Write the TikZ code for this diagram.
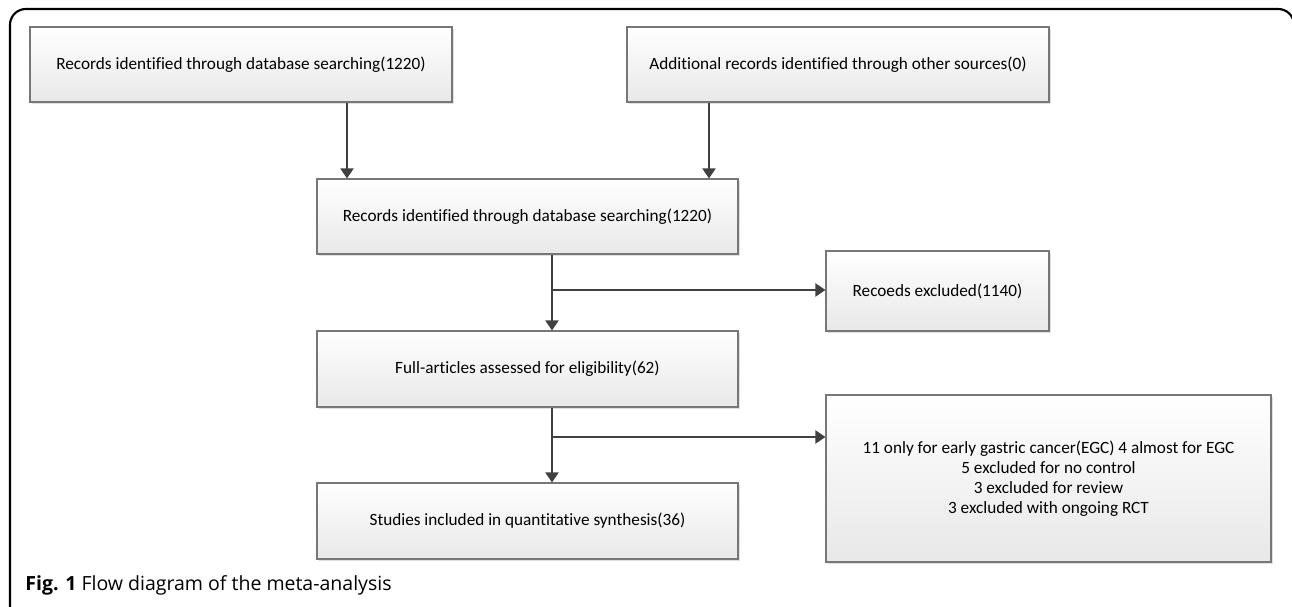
\documentclass[tikz,border=0pt]{standalone}
\usepackage{fontspec}
\setmainfont{Carlito}[Ligatures=NoCommon]
\newfontfamily\capfont{Open Sans}
\usepackage{tikz}
\usetikzlibrary{arrows.meta, shadows, positioning}

\definecolor{linegray}{HTML}{404040}
\definecolor{boxline}{HTML}{777777}

\begin{document}
\begin{tikzpicture}[
    x=0.02cm, y=-0.02cm,
    box/.style={rectangle, draw=boxline, line width=0.6pt, top color=white, bottom color=black!9,
        drop shadow={shadow xshift=1.3pt, shadow yshift=-1.3pt, fill=black!12, opacity=1},
        align=center, font=\fontsize{9.8}{11.4}\selectfont, inner sep=0pt},
    arrow/.style={-{Triangle[length=0.2cm, width=0.26cm]}, line width=1.1pt, draw=linegray}
]
\useasboundingbox (0,0) rectangle (1292,607);

% outer frame
\draw[line width=1.2pt, rounded corners=9] (10,640) -- (10,9) -- (1294,9) -- (1294,640);

\node[box, minimum width=422*0.02cm, minimum height=75*0.02cm] (rec) at (241,64.5)
    {Records identified through database searching(1220)};
\node[box, minimum width=422*0.02cm, minimum height=75*0.02cm] (add) at (838,64.5)
    {Additional records identified through other sources(0)};
\node[box, minimum width=421*0.02cm, minimum height=75*0.02cm] (dedup) at (527.5,216.5)
    {Records identified through database searching(1220)};
\node[box, minimum width=223*0.02cm, minimum height=80*0.02cm] (excl) at (937.5,291)
    {Recoeds excluded(1140)};
\node[box, minimum width=421*0.02cm, minimum height=76*0.02cm] (full) at (527.5,369)
    {Full-articles assessed for eligibility(62)};
\node[box, minimum width=445*0.02cm, minimum height=167*0.02cm] (reasons) at (1048.5,478.5)
    {11 only for early gastric cancer(EGC) 4 almost for EGC\\
     5 excluded for no control\\
     3 excluded for review\\
     3 excluded with ongoing RCT};
\node[box, minimum width=421*0.02cm, minimum height=76*0.02cm] (incl) at (527.5,521)
    {Studies included in quantitative synthesis(36)};

\coordinate (c1) at (347,0);
\coordinate (c2) at (709,0);
\coordinate (b1) at (552,290);
\coordinate (b2) at (552,437);

\draw[arrow] (rec.south -| c1) -- (dedup.north -| c1);
\draw[arrow] (add.south -| c2) -- (dedup.north -| c2);
\draw[arrow] (dedup.south -| b1) -- (full.north -| b1);
\draw[arrow] (b1) -- (b1 -| excl.west);
\draw[arrow] (full.south -| b2) -- (incl.north -| b2);
\draw[arrow] (b2) -- (b2 -| reasons.west);

\node[anchor=base west, inner sep=0pt, font=\capfont\fontsize{11.1}{13}\selectfont] (cap) at (25,591)
    {\textbf{Fig. 1} Flow diagram of the meta-analysis};
\end{tikzpicture}
\end{document}
